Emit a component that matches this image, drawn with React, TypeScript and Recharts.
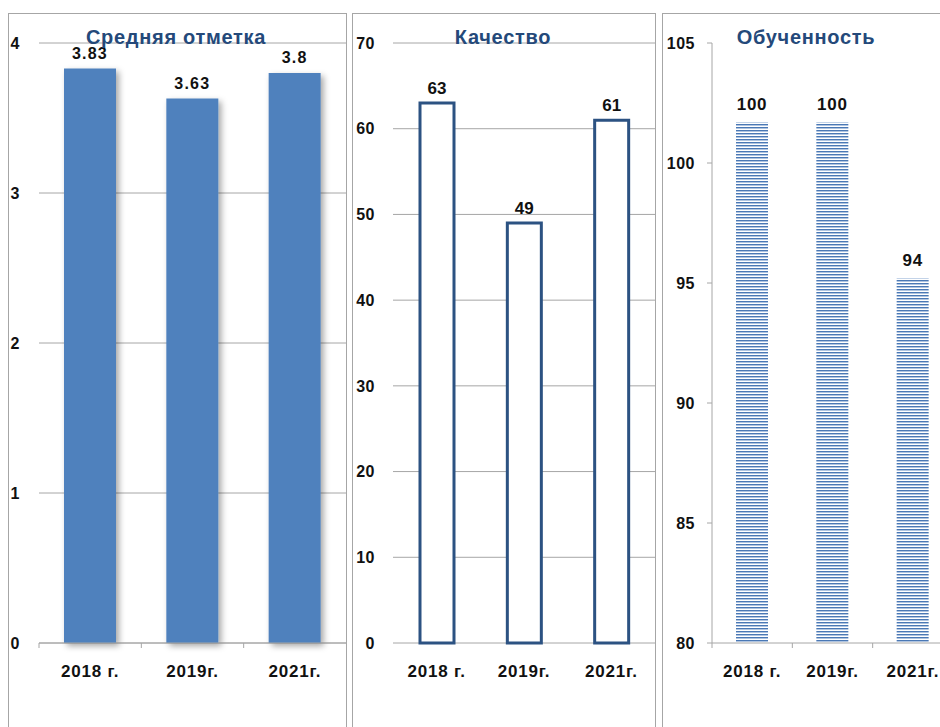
import React from 'react';
import { BarChart, Bar, XAxis, YAxis, CartesianGrid, LabelList } from 'recharts';

// categories
const years = ['2018 г.', '2019г.', '2021г.'];

// Средняя отметка
const avgMark = [3.83, 3.63, 3.8];
const avgTicks = [0, 1, 2, 3, 4];

// Качество
const quality = [63, 49, 61];
const qualityTicks = [0, 10, 20, 30, 40, 50, 60, 70];

// Обученность: bar heights as drawn, and the printed labels
const learned = [101.7, 101.7, 95.2];
const learnedLabels = ['100', '100', '94'];
const learnedTicks = [80, 85, 90, 95, 100, 105];

const FONT = "'Liberation Sans', Arial, sans-serif";
const GRID = '#A6A6A6';
const BLUE = '#4F81BD';
const DARK = '#2C5282';
const TITLE = '#24497A';

const avgData = years.map((y, i) => ({ year: y, value: avgMark[i] }));
const qualityData = years.map((y, i) => ({ year: y, value: quality[i] }));
const learnedData = years.map((y, i) => ({ year: y, value: learned[i], label: learnedLabels[i] }));

const yTick = { fontSize: 16, fontWeight: 'bold', fill: '#111', fontFamily: FONT, letterSpacing: 0.5 };
const valueLabel = { fontSize: 16, fontWeight: 'bold', fill: '#111', fontFamily: FONT };

const makeXTick = (band: number, showTick: boolean) => (props: any) => {
  const { x, y, payload } = props;
  return (
    <g>
      {showTick && <line x1={x - band / 2} x2={x - band / 2} y1={y} y2={y + 5} stroke={GRID} />}
      <text x={x} y={y + 34} textAnchor="middle" fontSize={17} fontWeight="bold" fill="#111" fontFamily={FONT} letterSpacing={0.8}>
        {payload.value}
      </text>
    </g>
  );
};

const panelBox = (left: number, width: number): React.CSSProperties => ({
  position: 'absolute', left, top: 13, width, height: 740,
  border: `1px solid ${GRID}`, boxSizing: 'border-box', background: '#fff',
});

const titleStyle = (cx: number): React.CSSProperties => ({
  position: 'absolute', left: cx, top: 27, transform: 'translateX(-50%)',
  fontFamily: FONT, fontWeight: 'bold', fontSize: 20, lineHeight: '20px', letterSpacing: 0.7,
  color: TITLE, whiteSpace: 'nowrap', pointerEvents: 'none',
});

export default function App() {
  return (
    <div style={{ position: 'absolute', left: 0, top: 0, width: 940, height: 727, overflow: 'hidden', background: '#fff' }}>
      <div style={panelBox(8, 339)} />
      <div style={panelBox(352, 304)} />
      <div style={panelBox(662, 300)} />

      {/* Средняя отметка */}
      <div style={{ position: 'absolute', left: 8, top: 13 }}>
        <BarChart width={338} height={714} data={avgData} margin={{ top: 30, right: 0, left: 0, bottom: 44 }}>
          <defs>
            <filter id="barShadow" x="-20%" y="-5%" width="150%" height="115%">
              <feDropShadow dx="3" dy="3" stdDeviation="3" floodColor="#000" floodOpacity="0.35" />
            </filter>
          </defs>
          <CartesianGrid vertical={false} stroke={GRID} />
          <XAxis dataKey="year" height={40} axisLine={{ stroke: GRID }} tickLine={false} tickSize={0} tickMargin={0} tick={makeXTick(307 / 3, true)} interval={0} />
          <YAxis width={31} domain={[0, 4]} ticks={avgTicks} axisLine={false} tickLine={false} tickSize={0} tickMargin={19} tick={yTick} />
          <Bar dataKey="value" fill={BLUE} barSize={52} filter="url(#barShadow)" isAnimationActive={false}>
            <LabelList dataKey="value" position="top" offset={10} style={{ ...valueLabel, letterSpacing: 1.2 }} />
          </Bar>
        </BarChart>
      </div>
      <div style={titleStyle(176)}>Средняя отметка</div>

      {/* Качество */}
      <div style={{ position: 'absolute', left: 352, top: 13 }}>
        <BarChart width={303} height={714} data={qualityData} margin={{ top: 30, right: 0, left: 0, bottom: 44 }}>
          <CartesianGrid vertical={false} stroke={GRID} />
          <XAxis dataKey="year" height={40} axisLine={false} tickLine={false} tickSize={0} tickMargin={0} tick={makeXTick(262 / 3, false)} interval={0} />
          <YAxis width={41} domain={[0, 70]} ticks={qualityTicks} axisLine={false} tickLine={false} tickSize={0} tickMargin={18} tick={yTick} />
          <Bar dataKey="value" fill="#fff" stroke={DARK} strokeWidth={3} barSize={34} isAnimationActive={false}>
            <LabelList dataKey="value" position="top" offset={9} style={{ ...valueLabel, fontSize: 17 }} />
          </Bar>
        </BarChart>
      </div>
      <div style={titleStyle(503)}>Качество</div>

      {/* Обученность */}
      <div style={{ position: 'absolute', left: 662, top: 13 }}>
        <BarChart width={291} height={714} data={learnedData} margin={{ top: 30, right: 0, left: 0, bottom: 44 }}>
          <defs>
            <pattern id="stripes" width="6" height="3" patternUnits="userSpaceOnUse">
              <rect x="0" y="0" width="6" height="3" fill="#fff" />
              <rect x="0" y="0" width="6" height="1" fill="#4A78B5" />
              <rect x="0" y="1" width="6" height="1" fill="#AFC4E0" />
            </pattern>
          </defs>
          <XAxis dataKey="year" height={40} axisLine={{ stroke: GRID }} tickLine={false} tickSize={0} tickMargin={0} tick={makeXTick(241 / 3, true)} interval={0} />
          <YAxis width={50} domain={[80, 105]} ticks={learnedTicks} axisLine={{ stroke: GRID }} tickLine={{ stroke: GRID }} tickSize={5} tickMargin={12} tick={yTick} allowDataOverflow />
          <Bar dataKey="value" fill="url(#stripes)" barSize={32} isAnimationActive={false}>
            <LabelList dataKey="label" position="top" offset={12} style={{ ...valueLabel, fontSize: 17, letterSpacing: 0.7 }} />
          </Bar>
        </BarChart>
      </div>
      <div style={titleStyle(806)}>Обученность</div>
    </div>
  );
}
